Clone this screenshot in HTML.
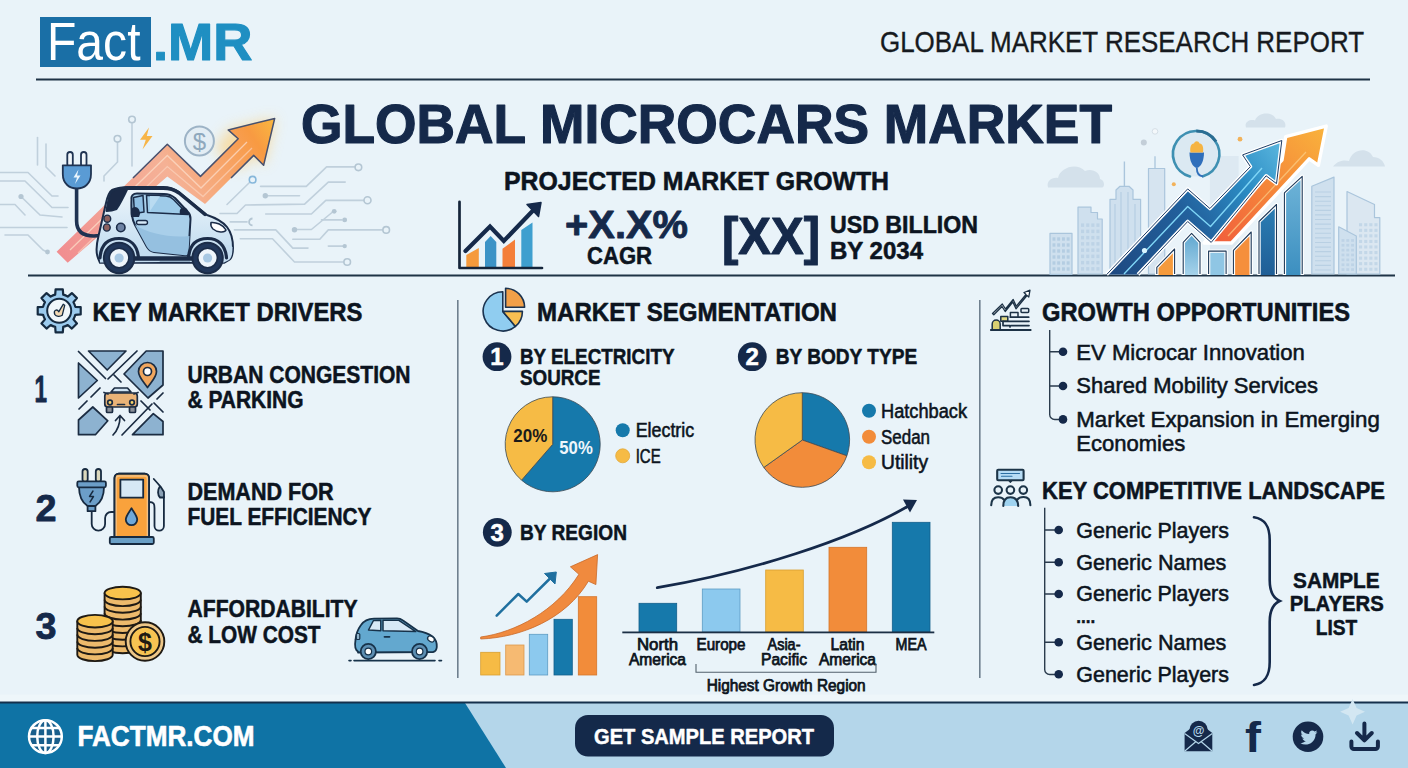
<!DOCTYPE html>
<html lang="en">
<head>
<meta charset="utf-8">
<title>Global Microcars Market</title>
<style>
html,body{margin:0;padding:0;background:#e9f3f9;}
body{width:1408px;height:768px;overflow:hidden;font-family:"Liberation Sans",sans-serif;}
svg{display:block;}
text{font-family:"Liberation Sans",sans-serif;}
.b{font-weight:bold;stroke-width:0.022em;stroke-linejoin:round;}
.nv{fill:#15294a;stroke:#15294a;}
.bk{fill:#0c1420;stroke:#0c1420;}
.wh{fill:#ffffff;stroke:#ffffff;}
.md{stroke:#0c1420;stroke-width:0.55px;}
.sm{stroke:#0c1420;stroke-width:0.75px;}
</style>
</head>
<body>
<svg width="1408" height="768" viewBox="0 0 1408 768">
<defs>
<linearGradient id="gWarm" x1="0" y1="1" x2="1" y2="0">
<stop offset="0" stop-color="#f08a8a"/><stop offset="0.55" stop-color="#f7a566"/><stop offset="1" stop-color="#f9b63c"/>
</linearGradient>
<linearGradient id="gBlueArrow" x1="0" y1="1" x2="1" y2="0">
<stop offset="0" stop-color="#1f4f86"/><stop offset="0.6" stop-color="#2a7fb8"/><stop offset="1" stop-color="#4fb0da"/>
</linearGradient>
<linearGradient id="gOrArrow" x1="0" y1="1" x2="1" y2="0">
<stop offset="0" stop-color="#f2703a"/><stop offset="1" stop-color="#f9a83a"/>
</linearGradient>
</defs>
<rect x="0" y="0" width="1408" height="768" fill="#e9f3f9"/>

<!-- ===== HEADER ===== -->
<g id="header">
<rect x="40" y="17" width="111" height="50" fill="#1a6fa6"/>
<text x="47" y="60" font-size="53.400" fill="#ffffff" textLength="93.500" lengthAdjust="spacingAndGlyphs">Fact</text>
<text x="153" y="60" font-size="52.700" class="b" fill="#1f8fc2" stroke="#1f8fc2" textLength="99.500" lengthAdjust="spacingAndGlyphs">.MR</text>
<text x="880" y="51.5" font-size="29.8" fill="#161a20" stroke="#161a20" stroke-width="0.350" textLength="484" lengthAdjust="spacingAndGlyphs">GLOBAL MARKET RESEARCH REPORT</text>
<rect x="36" y="78.5" width="1334" height="2" fill="#1e3346"/>
</g>

<!-- ===== TITLE + STATS ===== -->
<g id="title">
<text x="301" y="143.3" font-size="54.9" class="b nv" textLength="811" lengthAdjust="spacingAndGlyphs">GLOBAL MICROCARS MARKET</text>
<text x="504" y="190" font-size="26.2" class="b bk" textLength="385" lengthAdjust="spacingAndGlyphs">PROJECTED MARKET GROWTH</text>
<text x="565" y="237.5" font-size="38" class="b nv" textLength="123" lengthAdjust="spacingAndGlyphs">+X.X%</text>
<text x="587" y="263.8" font-size="24.3" class="b bk" textLength="65" lengthAdjust="spacingAndGlyphs">CAGR</text>
<text x="722" y="254" font-size="51" class="b nv" textLength="98" lengthAdjust="spacingAndGlyphs">[XX]</text>
<text x="830" y="233.3" font-size="24.7" class="b bk" textLength="148" lengthAdjust="spacingAndGlyphs">USD BILLION</text>
<text x="830" y="259.3" font-size="24.7" class="b bk" textLength="93" lengthAdjust="spacingAndGlyphs">BY 2034</text>
<rect x="28" y="274.5" width="1367" height="2" fill="#1e3346"/>
</g>

<g id="illusL">
<defs>
<filter id="glow" x="-30%" y="-30%" width="160%" height="160%"><feGaussianBlur stdDeviation="7"/></filter>
<linearGradient id="gArrowL" gradientUnits="userSpaceOnUse" x1="60" y1="258" x2="272" y2="120">
<stop offset="0" stop-color="#f18d90"/><stop offset="0.3" stop-color="#f3a596"/><stop offset="0.55" stop-color="#f5b195"/><stop offset="0.75" stop-color="#f7a468"/><stop offset="0.9" stop-color="#f89a42"/><stop offset="1" stop-color="#f9b540"/>
</linearGradient>
<linearGradient id="gCarBody" x1="0" y1="0" x2="0" y2="1"><stop offset="0" stop-color="#eef6fc"/><stop offset="1" stop-color="#bcd9ee"/></linearGradient>
</defs>
<!-- circuits -->
<g fill="none" stroke="#c0d0dc" stroke-width="1.600" stroke-linecap="round" stroke-linejoin="round">
<path d="M0,172.500 L28,172.500 L52,196 L58,196"/>
<path d="M0,181 L25,181 L52,207.500 L68,207.500"/>
<path d="M21,196.500 L40,215 L62,217"/>
<path d="M0,204.500 L15,204.500 L25,215"/>
<path d="M0,227.500 L67,227.500"/>
<path d="M5,235 L28,235 L43,250 L47,252"/>
<path d="M37.500,137.500 L37.500,165"/><path d="M46,144 L46,167 L55,176"/>
<path d="M117.500,142 L117.500,162 L104,176 L104,181"/>
<path d="M132,123 L132,166"/>
<path d="M249.500,182.500 L227,204.500"/>
<path d="M260.600,186.400 L306.300,186.400 L326.600,166.900 L355,166.900"/>
<path d="M220,213.500 L237,213.500 L245.500,205 L304.600,204.100 L328.300,182.100 L345.200,182.100"/>
<path d="M268,195.700 L299.500,195.700"/>
<path d="M265.700,214 L311.400,214 L325.800,200.400 L364,200.400"/>
<path d="M332,212.500 L311.400,229.500 L296,229.500"/>
<path d="M342,219.900 L321.500,219.900"/>
<path d="M382.800,229.900 L328.300,229.900 L319.800,239.300 L292.800,239.300"/>
<path d="M230.200,221.900 L247,221.900"/>
<path d="M234.400,229.900 L275.800,229.900 L292.800,248.100 L308,248.100"/>
<path d="M240.300,238.800 L272.500,238.800 L294.500,262 L344,262"/>
<path d="M328.300,246.100 L343,246.100"/>
</g>
<g fill="#b4c6d3"><circle cx="21" cy="196.500" r="2.600"/><circle cx="47.500" cy="252" r="2.400"/><circle cx="265.300" cy="195.700" r="2.700"/><circle cx="294.500" cy="229.700" r="2.700"/><circle cx="334.200" cy="211.300" r="2.400"/><circle cx="344.700" cy="219.900" r="2.400"/><circle cx="344.700" cy="246.100" r="2.200"/></g>
<g fill="#e9f3f9" stroke="#b4c6d3" stroke-width="1.600"><circle cx="132" cy="119.500" r="3.300"/><circle cx="117.500" cy="138.800" r="3.300"/><circle cx="358.400" cy="167.300" r="3.300"/><circle cx="367.500" cy="200.300" r="3.500"/><circle cx="386.200" cy="229.900" r="3.300"/><circle cx="347.200" cy="262" r="3.300"/></g>
<circle cx="252.600" cy="179.700" r="3.300" fill="#e9f3f9" stroke="#86b7db" stroke-width="1.600"/>
<path d="M252.500,225.300 a3.400,3.400 0 0 1 0,-6.800" fill="none" stroke="#b4c6d3" stroke-width="1.800"/>
<!-- glow -->
<polygon points="228,130 275,118 264,165 254,155 240,170 215,150" fill="#fbd58a" opacity="0.750" filter="url(#glow)"/>
<!-- arrow band -->
<path d="M56.600,251.700 L167.300,144.300 L200.500,176.400 L238.200,138.800 L228.200,129.900 L274.700,118.400 L263.600,165.300 L253.700,155.400 L205,204.100 L167.300,176.400 L67.700,262.800 z" fill="url(#gArrowL)"/>
<path d="M70,250 L167.300,155.500 L201,188 L247,142" fill="none" stroke="#fbd9c4" stroke-width="1.300" opacity="0.800"/>
<path d="M78,253 L167.300,166.500 L203,196.500 L252,148" fill="none" stroke="#fbd9c4" stroke-width="1.300" opacity="0.600"/>
<path d="M133,178 L167.300,144.300 L200.500,176.400 L238.200,138.800 L228.200,129.900 L274.700,118.400 L263.600,165.300 L253.700,155.400 L231,178" fill="none" stroke="#46506e" stroke-width="1.500" stroke-linejoin="round"/>
<!-- coin + bolt -->
<circle cx="199.400" cy="141" r="14.500" fill="#e3edf4" stroke="#9db3c6" stroke-width="2"/>
<text x="199.400" y="149.500" font-size="24" text-anchor="middle" fill="#8fa8bd">$</text>
<path d="M149,127.500 L140,139.800 L145.800,139.800 L142.500,149.500 L152.500,136 L146.800,136 z" fill="#f7b548"/>
<!-- plug + cable -->
<path d="M76.600,188 L76.600,221 C76.600,232 84,236 94,236 L104,235" fill="none" stroke="#1f3352" stroke-width="3.600" stroke-linecap="round"/>
<g stroke="#1f3352" stroke-width="1.800" stroke-linejoin="round">
<rect x="67.300" y="152" width="5.500" height="15" rx="2.700" fill="#f1f6fa"/><rect x="81" y="152" width="5.500" height="15" rx="2.700" fill="#f1f6fa"/>
<path d="M62.800,165.300 L91,165.300 L91,174 C91,184 84,188.500 76.900,188.500 C69.800,188.500 62.800,184 62.800,174 z" fill="#5a9bd4"/>
</g>
<path d="M78.500,169.500 L73.500,177.500 L77,177.500 L75,184 L80.500,175.500 L77,175.500 z" fill="#e9f5fd"/>
<g id="car" stroke="#1b2c48" stroke-width="2" stroke-linejoin="round" stroke-linecap="round">
<!-- body -->
<path d="M98,258 C95.500,252 96.500,244 98.500,236 L106,203 C107.500,196 109,192 112,190 C118,187.500 124,187 130,187 L163,187 C170,187 174,188.500 179,192 L207,215 C216,218 223,222 227,227 C231,232 233,240 233,248 C233,254 232,258 229,260 L224,262.800 L100,262.800 z" fill="url(#gCarBody)"/>
<!-- lower shade -->
<path d="M99,246 C120,238 150,244 160,262 L100,262.500 z" fill="#c4ddf0" stroke="none"/>
<path d="M190,262 C193,246 222,240 232.500,247 C232.500,254 231.500,258 229,260 L224,262.500 z" fill="#c4ddf0" stroke="none"/>
<!-- dark rear pillar/roof -->
<path d="M106.500,211 C108,200 109.500,193 112.500,190.500 C118,188 124,187.500 128,187.500 C124,196 120,204 116.500,209 C113,210.500 110,211 106.500,211 z" fill="#1b2a46"/>
<path d="M126,188.300 L163,188.300 C170,188.300 174,189.500 179,193 L205,214.500" fill="none" stroke-width="3.400"/>
<!-- door -->
<path d="M131.500,199 C131,196 133,193.500 137,193.500 L164,194 C169,194 172,195.500 175,198 L188,212 C190,214 190.500,216 190.500,219 L188.500,252 C188.500,254.500 187,255.500 185,255.300 L154,252 C151,251.500 149,250 147,247 L135,225 C132,219 131,214 131.500,199 z" fill="#a9cfea"/>
<path d="M135,225 L147,247 C149,250 151,251.500 154,252 L185,255.300 C187,255.500 188.500,254.500 188.500,252 L189.500,236 C170,238 150,234 135,225 z" fill="#95c0e0" stroke="none"/>
<!-- windows -->
<path d="M133.500,197.500 L143,195.500 L144,212 L134.500,213.500 z" fill="#8fbfe3" stroke-width="1.500"/>
<path d="M146.500,195.300 L166,196 C169,196.200 171,197 173.500,199.500 L188,214.500 L147.500,212.500 z" fill="#9ecbe9" stroke-width="1.500"/>
<path d="M150,196 L160,196.300 L150,211 z" fill="#b9dbf1" stroke="none"/>
<!-- seats/dark shapes in windows -->
<path d="M131,217 C130,210 132,207 135,207 C138,207 140,210 140,214 L139,217 z" fill="#1b2a46" stroke="none"/>
<path d="M180,214.500 C179,209 181,207.500 184,207.500 C186.500,207.500 188,209.500 189,214.800 z" fill="#1b2a46" stroke="none"/>
<!-- handle -->
<rect x="136.500" y="220.500" width="11" height="4" rx="2" fill="#d6e9f7" stroke-width="1.400"/>
<!-- rear lights -->
<ellipse cx="107.300" cy="218.700" rx="3.400" ry="3.600" fill="#8d615f" stroke-width="1.400"/>
<ellipse cx="106.800" cy="227.500" rx="3.400" ry="3.600" fill="#8d615f" stroke-width="1.400"/>
<circle cx="120.800" cy="227.500" r="4.200" fill="#6d82a3" stroke-width="1.600"/>
<!-- headlight -->
<path d="M211,222.500 C216,222 223,224.500 226,230 C225,233 217,232.500 213,229 C211,227 210.500,224.500 211,222.500 z" fill="#ffffff" stroke-width="1.500"/>
<!-- sill -->
<path d="M135,258.500 L192,258.500" stroke-width="4.500" stroke="#1b2c48"/>
<!-- wheel arches -->
<path d="M100,258 C101,244 108,238.500 119,238.500 C130,238.500 137.500,245 138.500,258" fill="none" stroke-width="3.200"/>
<path d="M188.500,258 C189.500,244 197,238.500 207.600,238.500 C218,238.500 225.500,245 226.500,258" fill="none" stroke-width="3.200"/>
<!-- wheels -->
<circle cx="119.100" cy="258" r="15.200" fill="#21375a" stroke-width="2"/>
<circle cx="119.100" cy="258" r="9.800" fill="#eef5fb" stroke-width="1.600"/>
<circle cx="119.100" cy="258" r="4.600" fill="#a8c8e3" stroke="none"/>
<circle cx="207.600" cy="258" r="15.200" fill="#21375a" stroke-width="2"/>
<circle cx="207.600" cy="258" r="9.800" fill="#eef5fb" stroke-width="1.600"/>
<circle cx="207.600" cy="258" r="4.600" fill="#a8c8e3" stroke="none"/>
</g>
</g>
<g id="illusR">
<defs>
<linearGradient id="gBA" gradientUnits="userSpaceOnUse" x1="1110" y1="272" x2="1280" y2="142"><stop offset="0" stop-color="#1e4a82"/><stop offset="0.45" stop-color="#22609c"/><stop offset="0.75" stop-color="#2b8cc4"/><stop offset="1" stop-color="#5ab6de"/></linearGradient>
<linearGradient id="gOA" gradientUnits="userSpaceOnUse" x1="1215" y1="245" x2="1325" y2="127"><stop offset="0" stop-color="#f15d3c"/><stop offset="0.5" stop-color="#f5873a"/><stop offset="1" stop-color="#f9b33c"/></linearGradient>
<linearGradient id="gB5" x1="0" y1="0" x2="0" y2="1"><stop offset="0" stop-color="#2b7fb5"/><stop offset="1" stop-color="#1f5e96"/></linearGradient>
<linearGradient id="gB6" x1="0" y1="0" x2="0" y2="1"><stop offset="0" stop-color="#6fb4d8"/><stop offset="1" stop-color="#3c8fc0"/></linearGradient>
<linearGradient id="gB2" x1="0" y1="0" x2="0" y2="1"><stop offset="0" stop-color="#5fa6cf"/><stop offset="1" stop-color="#a5d2ea"/></linearGradient>
</defs>
<g fill="#d4e1eb">
<path d="M1048,187.500 C1046,181 1052,177 1058,178 C1060,168 1076,162 1085,171 C1092,168 1100,172 1100,179 C1105,180 1105,187.500 1102,187.500 z"/>
<path d="M1246,127.400 C1244,122 1250,119 1255,120.500 C1258,112 1272,111 1276,119 C1282,118 1287,122 1285,127.400 z"/>
<path d="M1333,166.600 C1338,160 1345,160 1349,161 C1352,149 1368,146 1373,157 C1379,157 1384,161 1385,166.600 z"/>
</g>
<g fill="#cfe0ee" stroke="#aac5dc" stroke-width="1.200" stroke-linejoin="round">
<rect x="1209.900" y="156" width="28.700" height="118" fill="#dde9f2" stroke="none"/>
<rect x="1050" y="233.300" width="22" height="41" />
<path d="M1078,274 L1078,207.200 L1091,207.200 L1091,212.500 L1097.500,212.500 L1097.500,219 L1102.200,219 L1102.200,274 z"/>
<path d="M1110,274 L1110,199.300 L1116,199.300 L1116,190 L1120,186.300 L1129,186.300 L1133,190 L1133,199.300 L1140.600,199.300 L1140.600,274 z"/>
<path d="M1124.400,186 L1124.400,161.500" fill="none" stroke-width="1.400"/>
<path d="M1148.500,274 L1148.500,168.500 L1164.700,168.500 L1164.700,274 z" fill="#d6e4f0"/>
<path d="M1155,168.500 L1155,156.200" fill="none" stroke-width="1.300"/>
<path d="M1347,274 L1347,191.500 L1374.500,204.500 L1374.500,217.600 L1379.800,217.600 L1379.800,274 z" fill="#dbe7f1"/>
<path d="M1311.800,274 L1311.800,186.300 L1334,177.100 L1334,274 z"/>
<path d="M1338.700,274 L1338.700,226.800 L1356.300,236 L1356.300,274 z"/>
</g>
<g fill="#b4cde2" stroke="none"><rect x="1052.5" y="237.3" width="2.9" height="3.4"/><rect x="1052.5" y="243.3" width="2.9" height="3.4"/><rect x="1052.5" y="249.3" width="2.9" height="3.4"/><rect x="1052.5" y="255.3" width="2.9" height="3.4"/><rect x="1052.5" y="261.3" width="2.9" height="3.4"/><rect x="1052.5" y="267.3" width="2.9" height="3.4"/><rect x="1057.2" y="237.3" width="2.9" height="3.4"/><rect x="1057.2" y="243.3" width="2.9" height="3.4"/><rect x="1057.2" y="249.3" width="2.9" height="3.4"/><rect x="1057.2" y="255.3" width="2.9" height="3.4"/><rect x="1057.2" y="261.3" width="2.9" height="3.4"/><rect x="1057.2" y="267.3" width="2.9" height="3.4"/><rect x="1062.0" y="237.3" width="2.9" height="3.4"/><rect x="1062.0" y="243.3" width="2.9" height="3.4"/><rect x="1062.0" y="249.3" width="2.9" height="3.4"/><rect x="1062.0" y="255.3" width="2.9" height="3.4"/><rect x="1062.0" y="261.3" width="2.9" height="3.4"/><rect x="1062.0" y="267.3" width="2.9" height="3.4"/><rect x="1066.7" y="237.3" width="2.9" height="3.4"/><rect x="1066.7" y="243.3" width="2.9" height="3.4"/><rect x="1066.7" y="249.3" width="2.9" height="3.4"/><rect x="1066.7" y="255.3" width="2.9" height="3.4"/><rect x="1066.7" y="261.3" width="2.9" height="3.4"/><rect x="1066.7" y="267.3" width="2.9" height="3.4"/></g>
<g fill="#bdd3e6" stroke="none"><rect x="1081.0" y="223.4" width="3.1" height="3.5"/><rect x="1081.0" y="229.6" width="3.1" height="3.5"/><rect x="1081.0" y="235.9" width="3.1" height="3.5"/><rect x="1081.0" y="242.1" width="3.1" height="3.5"/><rect x="1081.0" y="248.4" width="3.1" height="3.5"/><rect x="1081.0" y="254.6" width="3.1" height="3.5"/><rect x="1081.0" y="260.9" width="3.1" height="3.5"/><rect x="1081.0" y="267.1" width="3.1" height="3.5"/><rect x="1086.2" y="223.4" width="3.1" height="3.5"/><rect x="1086.2" y="229.6" width="3.1" height="3.5"/><rect x="1086.2" y="235.9" width="3.1" height="3.5"/><rect x="1086.2" y="242.1" width="3.1" height="3.5"/><rect x="1086.2" y="248.4" width="3.1" height="3.5"/><rect x="1086.2" y="254.6" width="3.1" height="3.5"/><rect x="1086.2" y="260.9" width="3.1" height="3.5"/><rect x="1086.2" y="267.1" width="3.1" height="3.5"/><rect x="1091.3" y="223.4" width="3.1" height="3.5"/><rect x="1091.3" y="229.6" width="3.1" height="3.5"/><rect x="1091.3" y="235.9" width="3.1" height="3.5"/><rect x="1091.3" y="242.1" width="3.1" height="3.5"/><rect x="1091.3" y="248.4" width="3.1" height="3.5"/><rect x="1091.3" y="254.6" width="3.1" height="3.5"/><rect x="1091.3" y="260.9" width="3.1" height="3.5"/><rect x="1091.3" y="267.1" width="3.1" height="3.5"/><rect x="1096.4" y="223.4" width="3.1" height="3.5"/><rect x="1096.4" y="229.6" width="3.1" height="3.5"/><rect x="1096.4" y="235.9" width="3.1" height="3.5"/><rect x="1096.4" y="242.1" width="3.1" height="3.5"/><rect x="1096.4" y="248.4" width="3.1" height="3.5"/><rect x="1096.4" y="254.6" width="3.1" height="3.5"/><rect x="1096.4" y="260.9" width="3.1" height="3.5"/><rect x="1096.4" y="267.1" width="3.1" height="3.5"/></g>
<path d="M1115,204 L1115,272 M1121,192 L1121,272 M1128,192 L1128,272 M1135,204 L1135,272" fill="none" stroke="#b4cde2" stroke-width="1.100"/>
<path d="M1315.0,192.0 L1331.0,192.0 M1315.0,196.6 L1331.0,196.6 M1315.0,201.2 L1331.0,201.2 M1315.0,205.8 L1331.0,205.8 M1315.0,210.4 L1331.0,210.4 M1315.0,214.9 L1331.0,214.9 M1315.0,219.5 L1331.0,219.5 M1315.0,224.1 L1331.0,224.1 M1315.0,228.7 L1331.0,228.7 M1315.0,233.3 L1331.0,233.3 M1315.0,237.9 L1331.0,237.9 M1315.0,242.5 L1331.0,242.5 M1315.0,247.1 L1331.0,247.1 M1315.0,251.6 L1331.0,251.6 M1315.0,256.2 L1331.0,256.2 M1315.0,260.8 L1331.0,260.8 M1315.0,265.4 L1331.0,265.4 M1315.0,270.0 L1331.0,270.0" fill="none" stroke="#b9d0e3" stroke-width="1.100"/>
<g fill="#bdd3e6" stroke="none"><rect x="1341.5" y="239.1" width="2.9" height="2.7"/><rect x="1341.5" y="243.9" width="2.9" height="2.7"/><rect x="1341.5" y="248.8" width="2.9" height="2.7"/><rect x="1341.5" y="253.6" width="2.9" height="2.7"/><rect x="1341.5" y="258.5" width="2.9" height="2.7"/><rect x="1341.5" y="263.4" width="2.9" height="2.7"/><rect x="1341.5" y="268.2" width="2.9" height="2.7"/><rect x="1346.3" y="239.1" width="2.9" height="2.7"/><rect x="1346.3" y="243.9" width="2.9" height="2.7"/><rect x="1346.3" y="248.8" width="2.9" height="2.7"/><rect x="1346.3" y="253.6" width="2.9" height="2.7"/><rect x="1346.3" y="258.5" width="2.9" height="2.7"/><rect x="1346.3" y="263.4" width="2.9" height="2.7"/><rect x="1346.3" y="268.2" width="2.9" height="2.7"/><rect x="1351.1" y="239.1" width="2.9" height="2.7"/><rect x="1351.1" y="243.9" width="2.9" height="2.7"/><rect x="1351.1" y="248.8" width="2.9" height="2.7"/><rect x="1351.1" y="253.6" width="2.9" height="2.7"/><rect x="1351.1" y="258.5" width="2.9" height="2.7"/><rect x="1351.1" y="263.4" width="2.9" height="2.7"/><rect x="1351.1" y="268.2" width="2.9" height="2.7"/></g>
<g fill="#c3d7e8" stroke="none"><rect x="1359.0" y="223.2" width="3.1" height="3.1"/><rect x="1359.0" y="228.8" width="3.1" height="3.1"/><rect x="1359.0" y="234.3" width="3.1" height="3.1"/><rect x="1359.0" y="239.9" width="3.1" height="3.1"/><rect x="1359.0" y="245.4" width="3.1" height="3.1"/><rect x="1359.0" y="251.0" width="3.1" height="3.1"/><rect x="1359.0" y="256.6" width="3.1" height="3.1"/><rect x="1359.0" y="262.1" width="3.1" height="3.1"/><rect x="1359.0" y="267.7" width="3.1" height="3.1"/><rect x="1364.2" y="223.2" width="3.1" height="3.1"/><rect x="1364.2" y="228.8" width="3.1" height="3.1"/><rect x="1364.2" y="234.3" width="3.1" height="3.1"/><rect x="1364.2" y="239.9" width="3.1" height="3.1"/><rect x="1364.2" y="245.4" width="3.1" height="3.1"/><rect x="1364.2" y="251.0" width="3.1" height="3.1"/><rect x="1364.2" y="256.6" width="3.1" height="3.1"/><rect x="1364.2" y="262.1" width="3.1" height="3.1"/><rect x="1364.2" y="267.7" width="3.1" height="3.1"/><rect x="1369.3" y="223.2" width="3.1" height="3.1"/><rect x="1369.3" y="228.8" width="3.1" height="3.1"/><rect x="1369.3" y="234.3" width="3.1" height="3.1"/><rect x="1369.3" y="239.9" width="3.1" height="3.1"/><rect x="1369.3" y="245.4" width="3.1" height="3.1"/><rect x="1369.3" y="251.0" width="3.1" height="3.1"/><rect x="1369.3" y="256.6" width="3.1" height="3.1"/><rect x="1369.3" y="262.1" width="3.1" height="3.1"/><rect x="1369.3" y="267.7" width="3.1" height="3.1"/><rect x="1374.4" y="223.2" width="3.1" height="3.1"/><rect x="1374.4" y="228.8" width="3.1" height="3.1"/><rect x="1374.4" y="234.3" width="3.1" height="3.1"/><rect x="1374.4" y="239.9" width="3.1" height="3.1"/><rect x="1374.4" y="245.4" width="3.1" height="3.1"/><rect x="1374.4" y="251.0" width="3.1" height="3.1"/><rect x="1374.4" y="256.6" width="3.1" height="3.1"/><rect x="1374.4" y="262.1" width="3.1" height="3.1"/><rect x="1374.4" y="267.7" width="3.1" height="3.1"/></g>
<path d="M1204,243 L1282,160 L1285.700,136.600 L1326.200,126.100 L1318.400,165.300 L1309.200,158.800 L1231.500,243 z" fill="url(#gOA)" stroke="#ffffff" stroke-width="3.400" stroke-linejoin="round"/>
<path d="M1228,236 L1306,152" fill="none" stroke="#fbd08a" stroke-width="1.300" opacity="0.700"/>
<g stroke="#ffffff" stroke-width="3.400" stroke-linejoin="round">
<path d="M1156.800,275 L1156.800,267.300 L1174.600,249 L1174.600,275" fill="#f59a3c"/>
<path d="M1183.200,275 L1183.200,242.400 L1191.600,233.300 L1200,242.400 L1200,275" fill="url(#gB2)"/>
<path d="M1208.600,275 L1208.600,251.100 L1226.100,251.100 L1226.100,275" fill="#8fc6e4"/>
<path d="M1233.400,275 L1233.400,250.300 L1251.200,232 L1251.200,275" fill="#f58f3c"/>
<path d="M1259,275 L1259,221.500 L1276.500,204.500 L1276.500,275" fill="url(#gB5)"/>
<path d="M1284.400,275 L1284.400,192.800 L1302.200,176.300 L1302.200,275" fill="url(#gB6)"/>
</g>
<g fill="none" stroke="#1e3a5a" stroke-width="1.100" stroke-linejoin="round">
<path d="M1156.800,274 L1156.800,267.300 L1174.600,249 L1174.600,274"/><path d="M1183.200,274 L1183.200,242.400 L1191.600,233.300 L1200,242.400 L1200,274"/><path d="M1208.600,274 L1208.600,251.100 L1226.100,251.100 L1226.100,274"/><path d="M1233.400,274 L1233.400,250.300 L1251.200,232 L1251.200,274"/><path d="M1259,274 L1259,221.500 L1276.500,204.500 L1276.500,274"/><path d="M1284.400,274 L1284.400,192.800 L1302.200,176.300 L1302.200,274"/>
</g>
<path d="M1106.600,274.600 L1187.700,188.900 L1209.900,208.500 L1250.400,166.600 L1242.600,154.900 L1281.800,140.500 L1276.500,183.600 L1266.100,175.800 L1211.200,242.400 L1187.700,221.500 L1138,274.600" fill="url(#gBA)" stroke="#ffffff" stroke-width="3.600" stroke-linejoin="round"/>
<path d="M1106.600,274.600 L1187.700,188.900 L1209.900,208.500 L1250.400,166.600 L1242.600,154.900 L1281.800,140.500 L1276.500,183.600 L1266.100,175.800 L1211.200,242.400 L1187.700,221.500 L1138,274.600" fill="none" stroke="#1c3c66" stroke-width="1" stroke-linejoin="round"/>
<path d="M1124,274 L1187.700,206.500 L1210.500,226.500 L1262,168" fill="none" stroke="#7fd6f7" stroke-width="1.400" stroke-linejoin="round"/>
<circle cx="1144.500" cy="250.500" r="2.600" fill="#d9f5ff"/>
<circle cx="1196.300" cy="154.100" r="22.500" fill="#dbe9f2"/>
<path d="M1190,176.500 A23.200,23.200 0 1 1 1203,176.300" fill="none" stroke="#3e90b2" stroke-width="2.600" stroke-linecap="round"/>
<path d="M1196.300,130.900 A23.200,23.200 0 0 1 1216,141.500" fill="none" stroke="#2a6d92" stroke-width="3"/>
<path d="M1189.500,152.500 L1204,152.500 C1204,161 1201,167 1196.800,168 C1192.500,167 1189.500,161 1189.500,152.500 z" fill="#2f6fbb"/>
<path d="M1190.500,152.500 C1189.500,147 1191.500,143 1194,143.500 C1195,140.500 1198.500,140.500 1199.500,143.500 C1202,143 1204,147 1203,152.500 z" fill="#f5b443"/>
<path d="M1196.800,168 C1196.800,173 1198,176 1203,176.300" fill="none" stroke="#2f6fbb" stroke-width="1.800"/>
<circle cx="1143.800" cy="142.600" r="3" fill="#c3ced8"/><circle cx="1155" cy="131.400" r="2.800" fill="#f4f8fb" stroke="#d5dfe7" stroke-width="1"/><circle cx="1240" cy="139.200" r="2.400" fill="#f2b25a"/><circle cx="1173.800" cy="184.200" r="2" fill="#f2b25a"/>
</g>
<g id="statsicon">
<path d="M466.300,267 L466.300,255 L478.800,248 L478.800,267 z" fill="#f59a3c"/>
<path d="M485,267 L485,242 L490.600,236 L496.300,242 L496.300,267 z" fill="#3c93c6"/>
<path d="M502.500,267 L502.500,248.800 L515,239.500 L515,267 z" fill="#f47f3a"/>
<path d="M521.300,267 L521.300,230 L532.500,222.500 L532.500,267 z" fill="#3f9fcf"/>
<path d="M459.500,201.800 L459.500,268 L542,268" fill="none" stroke="#14243a" stroke-width="2.700" stroke-linecap="round" stroke-linejoin="round"/>
<path d="M465.500,251 L490,226.500 L503.800,241 L534,209.500" fill="none" stroke="#15294a" stroke-width="4.200" stroke-linecap="round" stroke-linejoin="miter"/>
<path d="M527,204.500 L541,202.500 L538.500,216.500 z" fill="#15294a" stroke="#15294a" stroke-width="1.500" stroke-linejoin="round"/>
</g>

<!-- ===== COLUMN DIVIDERS ===== -->
<rect x="457" y="300" width="1.6" height="378" fill="#6f808f"/>
<rect x="979" y="300" width="1.6" height="378" fill="#6f808f"/>

<!-- ===== LEFT COLUMN ===== -->
<g id="left">
<!-- gear icon -->
<g id="gear" stroke="#152a40" stroke-linejoin="round">
<path d="M55.18,294.69 L55.60,289.30 L62.80,289.30 L63.22,294.69 A16.6,16.6 0 0 1 67.75,296.57 L71.86,293.05 L76.95,298.14 L73.43,302.25 A16.6,16.6 0 0 1 75.31,306.78 L80.70,307.20 L80.70,314.40 L75.31,314.82 A16.6,16.6 0 0 1 73.43,319.35 L76.95,323.46 L71.86,328.55 L67.75,325.03 A16.6,16.6 0 0 1 63.22,326.91 L62.80,332.30 L55.60,332.30 L55.18,326.91 A16.6,16.6 0 0 1 50.65,325.03 L46.54,328.55 L41.45,323.46 L44.97,319.35 A16.6,16.6 0 0 1 43.09,314.82 L37.70,314.40 L37.70,307.20 L43.09,306.78 A16.6,16.6 0 0 1 44.97,302.25 L41.45,298.14 L46.54,293.05 L50.65,296.57 A16.6,16.6 0 0 1 55.18,294.69 z" fill="#9ccbee" stroke-width="2.200"/>
<circle cx="59.2" cy="310.8" r="12" fill="#f1f7fb" stroke-width="2"/>
<path d="M54.7,314.3 C53.2,309.8 57.2,308.8 58.7,311.8 L63.2,304.3 L64.7,305.3 L62.2,315.3 C60.2,316.8 56.2,316.8 54.7,314.3 z" fill="#f3d9b5" stroke-width="1.300"/>
</g>
<text x="92.5" y="320.8" font-size="26.2" class="b bk" textLength="270" lengthAdjust="spacingAndGlyphs">KEY MARKET DRIVERS</text>

<!-- 1 -->
<text x="34.500" y="402.300" font-size="37.500" class="b nv" textLength="12.500" lengthAdjust="spacingAndGlyphs">1</text>
<text x="187.5" y="382.8" font-size="23.5" class="b bk" textLength="223" lengthAdjust="spacingAndGlyphs">URBAN CONGESTION</text>
<text x="187.5" y="408.3" font-size="23.5" class="b bk" textLength="116" lengthAdjust="spacingAndGlyphs">&amp; PARKING</text>
<g id="mapicon" stroke="#1b2c42" stroke-width="1.7" stroke-linejoin="round" stroke-linecap="round">
<g fill="#8db2d0">
<polygon points="88.5,351 126,351 107.2,370"/>
<polygon points="78.5,363 78.5,398 97.3,380.5"/>
<polygon points="146.2,351 163,351 163,385 148,398 124,374"/>
<polygon points="78.5,420 92.8,407 107.8,420.8 95.4,434.7 78.5,434.7"/>
<polygon points="132.5,434.7 153.3,413.6 163,421.5 163,434.7"/>
</g>
<g fill="none">
<path d="M78.5,351.5 L105.5,378.5"/><path d="M137,351 L108,379"/><path d="M114,375 L121,382"/>
<path d="M79,409 L87,401"/><path d="M91,397 L100,388"/>
<path d="M141,401 L150,410"/><path d="M154,403 L163,412"/><path d="M157,399 L163,393"/>
<path d="M122,435 L152,404"/>
<path d="M113,435 C118,430 120,425 120,416 M115.5,420.5 L120,415.5 L124.5,420.5"/>
</g>
<path d="M147.5,387.5 C143,381 138.5,377 138.5,371.5 a9,9 0 0 1 18,0 C156.5,377 152,381 147.500,387.5 z" fill="#f0a65e"/>
<circle cx="147.500" cy="371.500" r="4" fill="#ffffff"/>
<path d="M111,392 L114.500,388 L127.500,388 L131,392 z" fill="#cfe3f3"/>
<rect x="104.800" y="393" width="32.500" height="14" rx="3" fill="#e9b377"/>
<rect x="106.500" y="407" width="6" height="5.500" rx="1" fill="#8a8f98"/>
<rect x="129.500" y="407" width="6" height="5.500" rx="1" fill="#8a8f98"/>
<path d="M104,392.500 L108,394 M138,392.500 L134,394" fill="none"/>
<circle cx="110" cy="402.500" r="2.300" fill="#f7d36a"/><circle cx="132" cy="402.500" r="2.300" fill="#f7d36a"/>
<path d="M117.500,404.500 L124.500,404.500" fill="none"/>
</g>

<!-- 2 -->
<text x="35.5" y="521" font-size="37.5" class="b nv" textLength="21" lengthAdjust="spacingAndGlyphs">2</text>
<text x="187.5" y="500" font-size="23.5" class="b bk" textLength="146" lengthAdjust="spacingAndGlyphs">DEMAND FOR</text>
<text x="187.5" y="525.3" font-size="23.5" class="b bk" textLength="184" lengthAdjust="spacingAndGlyphs">FUEL EFFICIENCY</text>
<g id="pumpicon" stroke="#172a40" stroke-width="1.8" stroke-linejoin="round" stroke-linecap="round">
<path d="M91.700,511 L91.700,524 a6.700,6.700 0 0 0 13.400,0 L105.100,518 a6,6 0 0 1 6,-6 L114.500,512" fill="none"/>
<rect x="82.500" y="469" width="5.200" height="13" rx="2.600" fill="#dbd8bd"/>
<rect x="95.800" y="469" width="5.200" height="13" rx="2.600" fill="#dbd8bd"/>
<path d="M79,487 C79,498 83,503 87.600,506 L95.400,506 C100,503 104,498 104,487 z" fill="#6c9ec8"/>
<rect x="77.300" y="481.300" width="28.600" height="6" rx="1.500" fill="#6c9ec8"/>
<rect x="87.600" y="506" width="7.800" height="5.200" fill="#6c9ec8"/>
<path d="M93,491 L89.500,496.500 L93.500,496.500 L90,502" fill="none" stroke-width="1.400"/>
<path d="M149,502 C154,502 154.500,504 154.500,508 L154.500,526 a4.700,4.700 0 0 0 9.400,0 L163.900,497" fill="none"/>
<path d="M153.800,479 L160.500,486.500 L164,492 L164,497.500 L160,497.500 C157.500,495 157.500,490 159.500,487" fill="#8aa0b4"/>
<path d="M114.500,537 L114.500,478 a4.300,4.300 0 0 1 4.300,-4.300 L144.800,473.700 a4.300,4.300 0 0 1 4.300,4.300 L149.100,537 z" fill="#f9a23c"/>
<path d="M116,537 L116,479 a3,3 0 0 1 3,-3 L144.500,476 a3,3 0 0 1 3,3 L147.500,537" fill="none" stroke="#f4c285" stroke-width="1.600"/>
<path d="M114.500,537 L114.500,478 a4.300,4.300 0 0 1 4.300,-4.300 L144.800,473.700 a4.300,4.300 0 0 1 4.300,4.300 L149.100,537 z" fill="none"/>
<rect x="120.400" y="479.600" width="22.800" height="18.100" fill="#d6e8f5"/>
<path d="M131.500,508.300 C134.500,513 137.200,516 137.200,519.500 a5.700,5.700 0 0 1 -11.400,0 C125.800,516 128.500,513 131.500,508.300 z" fill="#6fa8d8"/>
<rect x="109.800" y="537" width="44" height="7" rx="1.500" fill="#6a9fc6"/>
</g>

<!-- 3 -->
<text x="35.5" y="639" font-size="37.5" class="b nv" textLength="21" lengthAdjust="spacingAndGlyphs">3</text>
<text x="187.5" y="617" font-size="23.5" class="b bk" textLength="170" lengthAdjust="spacingAndGlyphs">AFFORDABILITY</text>
<text x="187.5" y="642.8" font-size="23.5" class="b bk" textLength="133" lengthAdjust="spacingAndGlyphs">&amp; LOW COST</text>
<g id="coins" stroke="#1f1a14" stroke-width="1.900" stroke-linejoin="round">
<path d="M104.6,593.1 L104.6,646.9 A18.1,6.3 0 0 0 140.8,646.9 L140.8,593.1 z" fill="#edba6c"/>
<path d="M104.6,599.8 A18.1,6.3 0 0 0 140.8,599.8" fill="none"/>
<path d="M104.6,606.5 A18.1,6.3 0 0 0 140.8,606.5" fill="none"/>
<path d="M104.6,613.3 A18.1,6.3 0 0 0 140.8,613.3" fill="none"/>
<path d="M104.6,620.0 A18.1,6.3 0 0 0 140.8,620.0" fill="none"/>
<path d="M104.6,626.7 A18.1,6.3 0 0 0 140.8,626.7" fill="none"/>
<path d="M104.6,633.4 A18.1,6.3 0 0 0 140.8,633.4" fill="none"/>
<path d="M104.6,640.1 A18.1,6.3 0 0 0 140.8,640.1" fill="none"/>
<ellipse cx="122.7" cy="593.1" rx="18.1" ry="6.3" fill="#f8c24c"/>
<path d="M77.3,621.2 L77.3,654.8 A17.7,6.3 0 0 0 112.7,654.8 L112.7,621.2 z" fill="#edba6c"/>
<path d="M77.3,627.9 A17.7,6.3 0 0 0 112.7,627.9" fill="none"/>
<path d="M77.3,634.6 A17.7,6.3 0 0 0 112.7,634.6" fill="none"/>
<path d="M77.3,641.4 A17.7,6.3 0 0 0 112.7,641.4" fill="none"/>
<path d="M77.3,648.1 A17.7,6.3 0 0 0 112.7,648.1" fill="none"/>
<ellipse cx="95" cy="621.2" rx="17.7" ry="6.3" fill="#f8c24c"/>
<circle cx="145" cy="641.500" r="19.300" fill="#eec788"/>
<circle cx="145" cy="641.500" r="14.600" fill="#f7c352"/>
<text x="145" y="650.500" font-size="25" font-weight="bold" text-anchor="middle" stroke="none" fill="#1f1a14">$</text>
</g>
<g id="smallcar" stroke="#17324a" stroke-width="1.800" stroke-linejoin="round" stroke-linecap="round">
<path d="M358,651.500 C355,650 354.500,646 355.500,640 C356,634 358,629 361,625 C364,620.500 368,618.800 374,618.600 L397,618.300 C399.500,618.300 401,619 403,620.500 L418,631 C424,632 429,634 432.500,636.500 C436,639.500 437,643 436.800,647 C436.600,650 435.500,651.500 433,652 L358,652.500 z" fill="#63a8cf"/>
<path d="M368.500,630 L373.500,620.500 L380.800,620.300 L380.800,630.800 z" fill="#d8e9f6" stroke-width="1.500"/>
<path d="M383,620.300 L398.500,620.200 L415.800,631.600 L383,630.800 z" fill="#d8e9f6" stroke-width="1.500"/>
<path d="M384.500,636.800 L389.500,636.800" fill="none"/>
<rect x="356.300" y="633.500" width="3.500" height="6" rx="1" fill="#8fb4cc" stroke-width="1.200"/>
<ellipse cx="431" cy="639" rx="3.600" ry="2.600" fill="#ffffff" transform="rotate(30 431 639)" stroke-width="1.300"/>
<circle cx="368.300" cy="651.500" r="7.600" fill="#5d8fb3"/><circle cx="368.300" cy="651.500" r="3.300" fill="#ffffff" stroke-width="1.200"/>
<circle cx="419.600" cy="651.500" r="7.600" fill="#5d8fb3"/><circle cx="419.600" cy="651.500" r="3.300" fill="#ffffff" stroke-width="1.200"/>
<path d="M349,660.600 L351,660.600 M354,660.600 L435,660.600 M439,660.600 L441.500,660.600" fill="none" stroke-width="1.600"/>
</g>
</g>
<!-- ===== MIDDLE COLUMN ===== -->
<g id="mid">
<g stroke="#1b3350" stroke-width="1.600" stroke-linejoin="round">
<path d="M502.8,311.4 L515.40,326.41 A19.6,19.6 0 1 1 502.80,291.80 z" fill="#90cdf0"/>
<path d="M502.8,311.4 L522.40,311.40 A19.6,19.6 0 0 1 515.40,326.41 z" fill="#f9bf52"/>
<path d="M505.6,307.3 L505.60,288.30 A19,19 0 0 1 524.60,307.30 z" fill="#f2a049"/>
</g>
<text x="537" y="320.800" font-size="26.200" class="b bk" textLength="300" lengthAdjust="spacingAndGlyphs">MARKET SEGMENTATION</text>
<circle cx="497" cy="356.700" r="14.400" fill="#15294a"/>
<text x="497" y="365.200" font-size="24" class="b wh" text-anchor="middle">1</text>
<text x="520" y="364" font-size="22.800" class="b bk" textLength="154.500" lengthAdjust="spacingAndGlyphs">BY ELECTRICITY</text>
<text x="520" y="385.300" font-size="22.800" class="b bk" textLength="80.500" lengthAdjust="spacingAndGlyphs">SOURCE</text>
<g stroke="#3b4a55" stroke-width="0.800" stroke-linejoin="round">
<path d="M552.7,444.3 L552.70,396.80 A47.5,47.5 0 1 1 521.54,480.15 z" fill="#1679ab"/>
<path d="M552.7,444.3 L521.54,480.15 A47.5,47.5 0 0 1 552.70,396.80 z" fill="#f6bb45"/>
</g>
<text x="513.300" y="441.800" font-size="18" class="b" fill="#1a1a1a" textLength="34" lengthAdjust="spacingAndGlyphs">20%</text>
<text x="559.300" y="453.500" font-size="18" class="b" fill="#eef6fb" textLength="33.500" lengthAdjust="spacingAndGlyphs">50%</text>
<circle cx="622.700" cy="430.200" r="7" fill="#1679ab"/>
<text x="635.700" y="436.800" font-size="19.500" class="md bk" textLength="58.500" lengthAdjust="spacingAndGlyphs">Electric</text>
<circle cx="622.700" cy="455.800" r="7" fill="#f6bb45" stroke="#e2a838" stroke-width="0.800"/>
<text x="635.700" y="462.800" font-size="19.500" class="md bk" textLength="25" lengthAdjust="spacingAndGlyphs">ICE</text>
<circle cx="752.300" cy="356.700" r="14.400" fill="#15294a"/>
<text x="752.300" y="365.200" font-size="24" class="b wh" text-anchor="middle">2</text>
<text x="775.700" y="364" font-size="22.800" class="b bk" textLength="141.500" lengthAdjust="spacingAndGlyphs">BY BODY TYPE</text>
<g stroke="#3b4a55" stroke-width="0.800" stroke-linejoin="round">
<path d="M802.3,440 L802.30,392.70 A47.3,47.3 0 0 1 846.89,455.79 z" fill="#1679ab"/>
<path d="M802.3,440 L846.89,455.79 A47.3,47.3 0 0 1 763.79,467.47 z" fill="#f28c3a"/>
<path d="M802.3,440 L763.79,467.47 A47.3,47.3 0 0 1 802.30,392.70 z" fill="#f6bb45"/>
</g>
<circle cx="869" cy="410.7" r="7" fill="#1679ab"/>
<text x="881" y="417.5" font-size="19.500" class="md bk" textLength="86" lengthAdjust="spacingAndGlyphs">Hatchback</text>
<circle cx="869" cy="436.7" r="7" fill="#f28c3a"/>
<text x="881" y="443.5" font-size="19.500" class="md bk" textLength="49" lengthAdjust="spacingAndGlyphs">Sedan</text>
<circle cx="869" cy="462.3" r="7" fill="#f6bb45"/>
<text x="881" y="469.1" font-size="19.500" class="md bk" textLength="47" lengthAdjust="spacingAndGlyphs">Utility</text>
<circle cx="497.300" cy="532.300" r="14.400" fill="#15294a"/>
<text x="497.300" y="540.800" font-size="24" class="b wh" text-anchor="middle">3</text>
<text x="520" y="539.500" font-size="22.800" class="b bk" textLength="107" lengthAdjust="spacingAndGlyphs">BY REGION</text>
<g id="minichart">
<rect x="480.7" y="652.3" width="19.3" height="22.7" fill="#f6bb45" stroke="#d99f30" stroke-width="0.800"/>
<rect x="505.7" y="645" width="18.3" height="30.0" fill="#f6ba72" stroke="#dc9a4e" stroke-width="0.800"/>
<rect x="529.3" y="634.3" width="18.4" height="40.7" fill="#8cc9ee" stroke="#5d9cc4" stroke-width="0.800"/>
<rect x="554" y="619.3" width="18.3" height="55.7" fill="#1679ab" stroke="#135f8c" stroke-width="0.800"/>
<rect x="578.3" y="596.7" width="18.4" height="78.3" fill="#f28c3a" stroke="#d5752b" stroke-width="0.800"/>
<path d="M480.700,637 C515,632.500 556,611 578.900,574.300 L570.400,566.800 L597.600,554.600 L595.900,584.600 L588.400,581.200 C566,619 521,637.500 480.700,639 z" fill="#f08a3e" stroke="#c96a2a" stroke-width="0.800" stroke-linejoin="round"/>
<path d="M496.700,615.700 L518.300,594 L526.700,601.700 L550,578.500" fill="none" stroke="#1f6f9f" stroke-width="2.500" stroke-linejoin="round" stroke-linecap="round"/>
<path d="M544.500,573.500 L556.300,572 L555,584 z" fill="#1f6f9f" stroke="#1f6f9f" stroke-width="1" stroke-linejoin="round"/>
</g>
<g id="bars">
<rect x="639" y="603.3" width="37.7" height="28.7" fill="#1679ab" stroke="#135f8c" stroke-width="0.800"/>
<rect x="702.3" y="589" width="37.7" height="43.0" fill="#8cc9ee" stroke="#5d9cc4" stroke-width="0.800"/>
<rect x="765.7" y="570" width="37.6" height="62.0" fill="#f6bb45" stroke="#d99f30" stroke-width="0.800"/>
<rect x="829" y="547.3" width="37.7" height="84.7" fill="#f28c3a" stroke="#d5752b" stroke-width="0.800"/>
<rect x="892.3" y="522.3" width="37.7" height="109.7" fill="#1679ab" stroke="#135f8c" stroke-width="0.800"/>
<rect x="622.300" y="631.500" width="312" height="1.800" fill="#1b2f45"/>
<path d="M657.300,587.700 C750,572 850,540 907.500,506.500" fill="none" stroke="#15294a" stroke-width="2.800" stroke-linecap="round"/>
<path d="M903,499.500 L917,500 L910,512.500 z" fill="#15294a"/>
<text x="637.0" y="650.3" font-size="15.800" class="sm bk" textLength="41" lengthAdjust="spacingAndGlyphs">North</text>
<text x="629.0" y="665.3" font-size="15.800" class="sm bk" textLength="57" lengthAdjust="spacingAndGlyphs">America</text>
<text x="696.5" y="650.3" font-size="15.800" class="sm bk" textLength="49" lengthAdjust="spacingAndGlyphs">Europe</text>
<text x="767.5" y="650.3" font-size="15.800" class="sm bk" textLength="33" lengthAdjust="spacingAndGlyphs">Asia-</text>
<text x="761.0" y="665.3" font-size="15.800" class="sm bk" textLength="46" lengthAdjust="spacingAndGlyphs">Pacific</text>
<text x="830.5" y="650.3" font-size="15.800" class="sm bk" textLength="34" lengthAdjust="spacingAndGlyphs">Latin</text>
<text x="819.0" y="665.3" font-size="15.800" class="sm bk" textLength="57" lengthAdjust="spacingAndGlyphs">America</text>
<text x="895.5" y="650.3" font-size="15.800" class="sm bk" textLength="31" lengthAdjust="spacingAndGlyphs">MEA</text>
<path d="M696,664 L696,672.300 L876,672.300 L876,664" fill="none" stroke="#52606c" stroke-width="1.100"/>
<text x="706.700" y="690.700" font-size="15.800" class="sm bk" textLength="159" lengthAdjust="spacingAndGlyphs">Highest Growth Region</text>
</g>
</g>
<!-- ===== RIGHT COLUMN ===== -->
<g id="right">
<g id="growthicon" stroke="#1c3145" stroke-width="1.500" stroke-linejoin="round" stroke-linecap="round" fill="none">
<path d="M992.500,313.500 L1002.300,304 L1005.500,309 L1013.200,299.500 L1016.300,306.200 L1026,294.500 L1024,292.500 L1030,290.200 L1028.800,297 L1027,295.500 L1016,308.800 L1012.800,302 L1005.200,311.500 L1002,306.500 L993.800,314.800 z" fill="#ffffff" stroke-width="1.300"/>
<path d="M992.200,330 L992.200,324 a4,4 0 0 1 8,0 L1000.200,330" fill="#d9d071"/>
<rect x="1000.800" y="316.500" width="7" height="4.700" fill="#e0d884"/>
<path d="M1010.400,317.200 L1010.400,312.400 L1018,312.400 L1018,317.200"/>
<rect x="1021" y="308.400" width="7.700" height="4" rx="0.800"/>
<path d="M1010.400,317.200 L1028.700,317.200" stroke-width="1.700"/>
<path d="M1003,321.300 L1029,321.300" stroke-width="1.700"/>
<path d="M1003,321.300 L1003,325.600 L1010,325.600 L1010,327 M1011,325.600 L1029,325.600" stroke-width="1.700"/>
<path d="M990.800,330 L1030.700,330" stroke-width="1.800"/>
</g>
<text x="1042" y="320.800" font-size="26.200" class="b bk" textLength="308" lengthAdjust="spacingAndGlyphs">GROWTH OPPORTUNITIES</text>
<path d="M1049.700,330 L1049.700,414.500 a5,5 0 0 0 5,5 L1060,419.500 M1049.700,351.700 L1060,351.700 M1049.700,386 L1060,386" fill="none" stroke="#2a3b4d" stroke-width="1.400"/>
<circle cx="1063" cy="351.7" r="4.300" fill="#15294a"/>
<circle cx="1063" cy="386" r="4.300" fill="#15294a"/>
<circle cx="1063" cy="419.4" r="4.300" fill="#15294a"/>
<text x="1076.300" y="360" font-size="22.800" class="md bk" textLength="228.5" lengthAdjust="spacingAndGlyphs">EV Microcar Innovation</text>
<text x="1076.300" y="393.3" font-size="22.800" class="md bk" textLength="241.7" lengthAdjust="spacingAndGlyphs">Shared Mobility Services</text>
<text x="1076.300" y="426.7" font-size="22.800" class="md bk" textLength="303.5" lengthAdjust="spacingAndGlyphs">Market Expansion in Emerging</text>
<text x="1076.300" y="451.2" font-size="22.800" class="md bk" textLength="109" lengthAdjust="spacingAndGlyphs">Economies</text>
<g id="peopleicon" stroke="#1c3448" stroke-width="2.100" stroke-linejoin="round" stroke-linecap="round" fill="none">
<path d="M1003.500,506 C1003.500,500 1006,497.200 1010.400,497.200 C1014.800,497.200 1017.800,500 1018,506 z" fill="#9fd3f0" stroke="none"/>
<rect x="997.200" y="469.800" width="26.400" height="10.500" rx="1" fill="#b7dcf5"/>
<path d="M1008.800,480.500 L1010.400,482.300 L1012,480.500" stroke-width="1.200"/>
<path d="M1001,473.500 L1019.500,473.500 M1001.500,476.300 L1012,476.300" stroke="#2d6fa3" stroke-width="1.100"/>
<circle cx="998.200" cy="490.100" r="3.800"/><circle cx="1010.400" cy="490.100" r="3.800"/><circle cx="1023.300" cy="490.100" r="3.800"/>
<path d="M991.200,505.300 C991.200,499.500 994,497.200 998.200,497.200 C1001,497.200 1003,498.300 1004.200,500"/>
<path d="M1003.300,506 C1003.300,500 1006,497.200 1010.400,497.200 C1015,497.200 1018,500 1018.200,506"/>
<path d="M1017,499.800 C1018.500,498 1020.500,497 1023.500,497 C1028,497 1030.400,499.500 1030.400,505.300"/>
</g>
<text x="1042" y="499" font-size="24.200" class="b bk" textLength="343" lengthAdjust="spacingAndGlyphs">KEY COMPETITIVE LANDSCAPE</text>
<path d="M1044.700,507.700 L1044.700,669.500 a5,5 0 0 0 5,5 L1055,674.500 M1044.700,530 L1055,530 M1044.700,562.300 L1055,562.300 M1044.700,594 L1055,594 M1044.700,642.300 L1055,642.300" fill="none" stroke="#2a3b4d" stroke-width="1.400"/>
<circle cx="1058.700" cy="530" r="4.300" fill="#15294a"/>
<circle cx="1058.700" cy="562.3" r="4.300" fill="#15294a"/>
<circle cx="1058.700" cy="594" r="4.300" fill="#15294a"/>
<circle cx="1058.700" cy="642.3" r="4.300" fill="#15294a"/>
<circle cx="1058.700" cy="674.3" r="4.300" fill="#15294a"/>
<text x="1076.300" y="537.5" font-size="22.800" class="md bk" textLength="152.7" lengthAdjust="spacingAndGlyphs">Generic Players</text>
<text x="1076.300" y="569.5" font-size="22.800" class="md bk" textLength="150" lengthAdjust="spacingAndGlyphs">Generic Names</text>
<text x="1076.300" y="601.2" font-size="22.800" class="md bk" textLength="152.7" lengthAdjust="spacingAndGlyphs">Generic Players</text>
<text x="1076.300" y="649.5" font-size="22.800" class="md bk" textLength="150" lengthAdjust="spacingAndGlyphs">Generic Names</text>
<text x="1076.300" y="681.8" font-size="22.800" class="md bk" textLength="152.7" lengthAdjust="spacingAndGlyphs">Generic Players</text>
<text x="1076.300" y="622.500" font-size="18" class="b bk" textLength="19" lengthAdjust="spacingAndGlyphs">....</text>
<path d="M1254,517.300 C1265,519 1269.700,526 1269.700,540 L1269.700,580 C1269.700,592 1273,598 1279.700,601 C1273,604 1269.700,610 1269.700,622 L1269.700,662 C1269.700,676 1265,683 1254,685" fill="none" stroke="#15294a" stroke-width="2.600" stroke-linecap="round"/>
<text x="1293" y="587.8" font-size="22.400" class="b bk" textLength="86.7" lengthAdjust="spacingAndGlyphs">SAMPLE</text>
<text x="1289.7" y="611.2" font-size="22.400" class="b bk" textLength="94.0" lengthAdjust="spacingAndGlyphs">PLAYERS</text>
<text x="1315.7" y="634.5" font-size="22.400" class="b bk" textLength="41.6" lengthAdjust="spacingAndGlyphs">LIST</text>
</g>

<!-- ===== FOOTER ===== -->
<g id="footer">
<rect x="0" y="694.500" width="1408" height="7.500" fill="#eef6fa"/>
<rect x="0" y="703" width="1408" height="65" fill="#b4d6ea"/>
<polygon points="0,703 465,703 506,768 0,768" fill="#0f73a5"/>
<rect x="0" y="701.5" width="1408" height="2" fill="#14304c"/>
<text x="77.5" y="746" font-size="29" class="b wh" textLength="177" lengthAdjust="spacingAndGlyphs">FACTMR.COM</text>
<rect x="575" y="715" width="259" height="41.5" rx="13" ry="13" fill="#14294a"/>
<text x="594" y="744" font-size="21.8" class="b wh" textLength="220" lengthAdjust="spacingAndGlyphs">GET SAMPLE REPORT</text>
<g id="globe" fill="none" stroke="#ffffff" stroke-width="2.500">
<circle cx="45.400" cy="736.600" r="16.400" fill="#1a5f8c"/>
<ellipse cx="45.400" cy="736.600" rx="8.200" ry="16.400"/>
<path d="M45.400,720.200 L45.400,753 M29,736.600 L61.800,736.600 M31.500,728 L59.300,728 M31.500,745.200 L59.300,745.200"/>
</g>
<g id="ficons" fill="#15294a">
<polygon points="1352.600,699 1356.600,708 1365,711.800 1356.600,715.600 1352.600,724.600 1348.600,715.600 1340.200,711.800 1348.600,708" fill="#d3e7f2"/>
<path d="M1184.600,733 L1198.500,722.500 L1212.300,733 L1212.300,751.200 L1184.600,751.200 z"/>
<circle cx="1198.600" cy="730" r="9.200"/>
<path d="M1184.600,751.200 L1196,741.500 M1212.300,751.200 L1201,741.500 M1184.600,733.500 L1198.500,743.500 L1212.300,733.500" fill="none" stroke="#b4d6ea" stroke-width="1.200"/>
<text x="1198.600" y="734.500" font-size="12" class="b" text-anchor="middle" fill="#b4d6ea">@</text>
<text x="1245" y="751.500" font-size="42" class="b" fill="#15294a" textLength="16" lengthAdjust="spacingAndGlyphs">f</text>
<circle cx="1308" cy="736.800" r="15.300"/>
<path d="M1300.500,743.300 C1306,746.500 1315.500,743.500 1315.600,734.200 C1316.300,733.600 1317,732.900 1317.400,732.100 C1316.700,732.400 1316,732.600 1315.300,732.700 C1316.100,732.200 1316.700,731.500 1317,730.600 C1316.200,731 1315.400,731.400 1314.600,731.500 C1312.600,729.300 1308.600,730.900 1309.200,734 C1306.200,733.900 1303.500,732.400 1301.700,730.200 C1300.700,731.900 1301.200,734 1302.800,735.100 C1302.200,735.100 1301.600,734.900 1301.100,734.600 C1301.100,736.400 1302.400,737.900 1304.100,738.300 C1303.600,738.500 1303,738.500 1302.400,738.400 C1302.900,739.900 1304.300,741 1305.900,741 C1304.300,742.300 1302.300,742.900 1300.500,743.300 z" fill="#b4d6ea"/>
<path d="M1364.400,723.500 L1364.400,739.500 M1357,733 L1364.400,740.400 L1371.800,733 M1351.400,741.500 L1351.400,746.500 a2.500,2.500 0 0 0 2.500,2.500 L1375.400,749 a2.500,2.500 0 0 0 2.500,-2.500 L1377.900,741.500" fill="none" stroke="#15294a" stroke-width="4" stroke-linecap="round" stroke-linejoin="round"/>
</g>
</g>
</svg>
</body>
</html>
